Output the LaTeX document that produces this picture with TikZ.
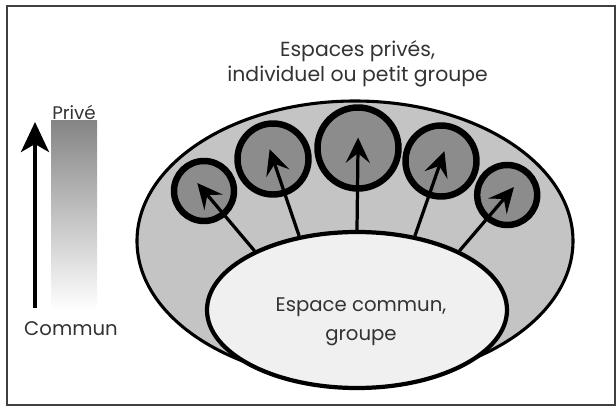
\documentclass[tikz,border=0pt]{standalone}
\usepackage{fontspec}
\setmainfont{Poppins}
\usetikzlibrary{shapes.geometric,arrows.meta,positioning}

\begin{document}
\begin{tikzpicture}[
    zone/.style={
        draw=black,
        ellipse,
        line width=2.2pt,
        fill=black!23,
        minimum width=10.9cm,
        minimum height=7cm
    },
    common/.style={
        draw=black,
        ellipse,
        line width=3pt,
        fill=black!6,
        minimum width=7.5cm,
        minimum height=3.9cm
    },
    private/.style={
        draw=black,
        circle,
        line width=4.6pt,
        fill=black!45,
        inner sep=0pt
    },
    txt/.style={
        text=black!80,
        inner sep=0pt,
        align=center
    },
    spoke/.style={
        -{Stealth[length=6.3mm, width=6mm, inset=2.4mm]},
        line width=2.3pt,
        shorten >=-2.6mm
    },
    axis/.style={
        -{Stealth[length=7.5mm, width=7mm, inset=2mm]},
        line width=2.8pt
    }
]
    \useasboundingbox (0,0) rectangle (15.4,10.175);
    \draw[black!75, line width=1.2pt] (0.175,0.05) rectangle (15.375,10.025);

    \node[zone] (zone) at (8.875,4.15) {};
    \node[common] (common) at (8.925,2.425) {};
    \node[txt, font=\fontsize{14}{20.6}\selectfont] (commontext) at (9.025,2.125)
        {Espace commun,\\groupe};

    \node[private, minimum size=1.5cm] (p1) at (5.1,5.4) {};
    \node[private, minimum size=1.775cm] (p2) at (6.825,6.2) {};
    \node[private, minimum size=2.025cm] (p3) at (8.95,6.475) {};
    \node[private, minimum size=1.775cm] (p4) at (11.025,6.15) {};
    \node[private, minimum size=1.5cm] (p5) at (12.68,5.3) {};

    \draw[spoke] (common.150) -- (p1.center);
    \draw[spoke] (common.128) -- (p2.center);
    \draw[spoke] (common.90) -- (p3.center);
    \draw[spoke] (common.52) -- (p4.center);
    \draw[spoke] (common.30) -- (p5.center);

    \node[txt, font=\fontsize{14.5}{17.7}\selectfont] (title) at (8.94,8.575)
        {Espaces privés,\\individuel ou petit groupe};

    \node[top color=black!48, bottom color=white, minimum width=1.15cm,
        minimum height=4.75cm, inner sep=0pt] (scale) at (1.85,4.8) {};
    \node[txt, font=\fontsize{13}{15}\selectfont, above=0pt of scale] (top) {Privé};
    \node[txt, font=\fontsize{14}{17}\selectfont, anchor=base] (bottom) at (1.775,1.8) {Commun};

    \coordinate (low) at (0.875,2.475);
    \coordinate (high) at (0.875,7.125);
    \draw[axis] (low) -- (high);
\end{tikzpicture}
\end{document}
